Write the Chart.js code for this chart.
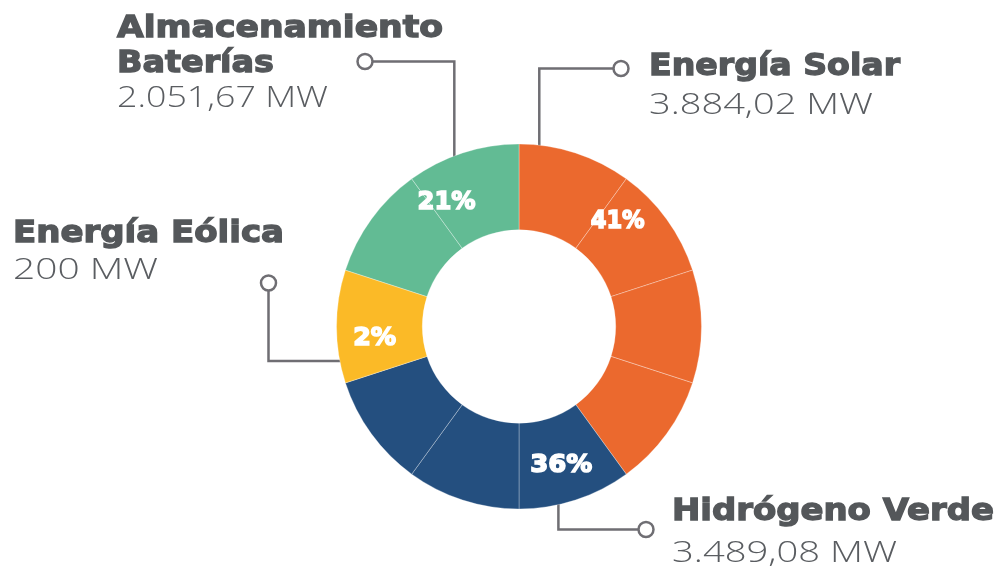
<!DOCTYPE html>
<html lang="es">
<head>
<meta charset="utf-8">
<title>Capacidad instalada por tecnología</title>
<script src="https://cdn.jsdelivr.net/npm/chart.js@4.4.1/dist/chart.umd.min.js"></script>
<style>
  html, body { margin: 0; padding: 0; background: #ffffff; }
</style>
</head>
<body>
<canvas id="anillo" width="1000" height="569"></canvas>
<script>
const categorias = ['Energía Solar', 'Hidrógeno Verde', 'Energía Eólica', 'Almacenamiento Baterías'];
const potenciaMW = [3884.02, 3489.08, 200, 2051.67];
const porcentajes = [41, 36, 2, 21];
// el anillo está partido en 10 gajos iguales: cuántos gajos lleva cada categoría
const gajos = [4, 3, 1, 2];
const colores = ['#EB692E', '#244F7F', '#FBBA27', '#62BB94'];

// Maquetación (no son datos): bloques de texto, guías y etiquetas de porcentaje
const bloques = [
  { x: 649, lineas: ['Energía Solar'], bases: [75], anchos: [251], baseValor: 114, anchoValor: 224 },
  { x: 672, lineas: ['Hidrógeno Verde'], bases: [519.5], anchos: [322], baseValor: 561.5, anchoValor: 225 },
  { x: 13, lineas: ['Energía Eólica'], bases: [241.5], anchos: [271], baseValor: 279, anchoValor: 145 },
  { x: 117, lineas: ['Almacenamiento', 'Baterías'], bases: [36.5, 71.5], anchos: [326, 157], baseValor: 106.5, anchoValor: 211 }
];
const guias = [
  { angulo: 6.6, dir: 'v', hasta: 68.5, circulo: 621 },
  { angulo: 167.1, dir: 'v', hasta: 529.5, circulo: 646 },
  { angulo: 258.7, dir: 'h', hasta: 268.5, circulo: 283 },
  { angulo: 338.5, dir: 'v', hasta: 61.5, circulo: 365 }
];
const anguloEtiqueta = [43, 163, 265.5, 330];
const anchoEtiqueta = [54, 62, 43, 58];

const grisTitulo = '#54575A';
const grisValor = '#5A5D61';
const grisGuia = '#6F6E73';

function formatoMW(v) {
  const partes = (Math.round(v * 100) / 100).toFixed(2).split('.');
  const entero = partes[0].replace(/\B(?=(\d{3})+(?!\d))/g, '.');
  return (partes[1] === '00' ? entero : entero + ',' + partes[1]) + ' MW';
}

// un valor por gajo, con el color de su categoría
const valoresGajo = [];
const coloresGajo = [];
gajos.forEach((n, i) => {
  for (let k = 0; k < n; k++) {
    valoresGajo.push(1);
    coloresGajo.push(colores[i]);
  }
});

// texto estirado en horizontal hasta el ancho que tiene en la infografía
function escribir(ctx, txt, x, y, ancho, trazo) {
  const w = ctx.measureText(txt).width;
  ctx.save();
  ctx.translate(x, y);
  ctx.scale(ancho / w, 1);
  ctx.fillText(txt, 0, 0);
  if (trazo) {
    ctx.lineWidth = trazo;
    ctx.strokeText(txt, 0, 0);
  }
  ctx.restore();
}

function puntoAnillo(arco, grados, r) {
  const a = grados * Math.PI / 180;
  return { x: arco.x + r * Math.sin(a), y: arco.y - r * Math.cos(a) };
}

const pluginGuias = {
  id: 'guias',
  beforeDatasetsDraw(chart) {
    const ctx = chart.ctx;
    const arco = chart.getDatasetMeta(0).data[0];
    ctx.save();
    ctx.strokeStyle = grisGuia;
    ctx.lineWidth = 2.5;
    guias.forEach(g => {
      const p = puntoAnillo(arco, g.angulo, arco.outerRadius - 6);
      let codo, fin;
      if (g.dir === 'v') {
        codo = { x: p.x, y: g.hasta };
        fin = { x: g.circulo, y: g.hasta };
      } else {
        codo = { x: g.hasta, y: p.y };
        fin = { x: g.hasta, y: g.circulo };
      }
      ctx.beginPath();
      ctx.moveTo(p.x, p.y);
      ctx.lineTo(codo.x, codo.y);
      ctx.lineTo(fin.x, fin.y);
      ctx.stroke();
      ctx.beginPath();
      ctx.arc(fin.x, fin.y, 7.5, 0, Math.PI * 2);
      ctx.fillStyle = '#ffffff';
      ctx.fill();
      ctx.stroke();
    });
    ctx.restore();
  },
  afterDatasetsDraw(chart) {
    const ctx = chart.ctx;
    const arco = chart.getDatasetMeta(0).data[0];
    ctx.save();
    // porcentajes dentro del anillo
    ctx.fillStyle = '#ffffff';
    ctx.strokeStyle = '#ffffff';
    ctx.textAlign = 'left';
    ctx.textBaseline = 'middle';
    ctx.font = 'bold 25px "DejaVu Sans"';
    const rMedio = arco.innerRadius + 0.56 * (arco.outerRadius - arco.innerRadius);
    porcentajes.forEach((p, i) => {
      const pt = puntoAnillo(arco, anguloEtiqueta[i], rMedio);
      escribir(ctx, p + '%', pt.x - anchoEtiqueta[i] / 2, pt.y + 1, anchoEtiqueta[i], 1.6);
    });

    // títulos y potencia de cada tecnología
    ctx.textBaseline = 'alphabetic';
    bloques.forEach((b, i) => {
      ctx.font = 'bold 30px "DejaVu Sans"';
      ctx.fillStyle = grisTitulo;
      ctx.strokeStyle = grisTitulo;
      b.lineas.forEach((linea, k) => {
        escribir(ctx, linea, b.x, b.bases[k], b.anchos[k], 1.3);
      });
      ctx.font = '300 29px "Open Sans", Roboto, sans-serif';
      ctx.fillStyle = grisValor;
      escribir(ctx, formatoMW(potenciaMW[i]), b.x, b.baseValor, b.anchoValor, 0);
    });
    ctx.restore();
  }
};

new Chart(document.getElementById('anillo'), {
  type: 'doughnut',
  data: {
    labels: coloresGajo.map((_, i) => 'gajo ' + (i + 1)),
    datasets: [{
      data: valoresGajo,
      backgroundColor: coloresGajo,
      borderColor: 'rgba(255,255,255,0.3)',
      borderWidth: 1,
      hoverOffset: 0
    }]
  },
  options: {
    responsive: false,
    animation: false,
    cutout: '53%',
    layout: { padding: { top: 143.5, bottom: 59.5, left: 336, right: 298 } },
    plugins: {
      legend: { display: false },
      tooltip: { enabled: false }
    },
    events: []
  },
  plugins: [pluginGuias]
});
</script>
</body>
</html>
